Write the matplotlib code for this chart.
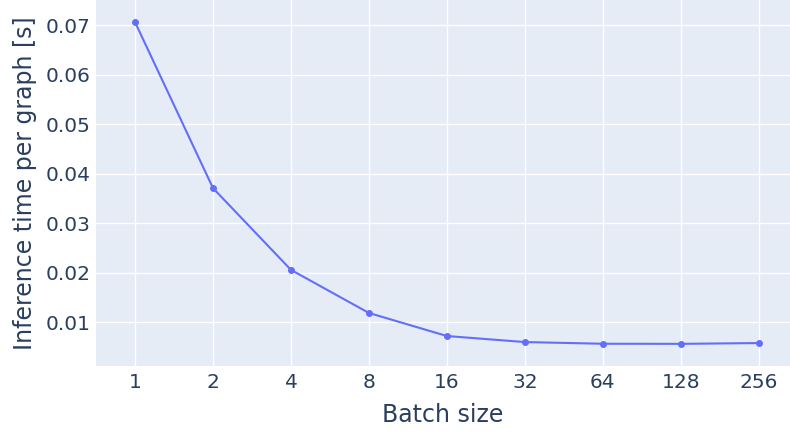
import matplotlib
matplotlib.use('Agg')
import matplotlib.pyplot as plt

# 数据
batch_sizes = ['1', '2', '4', '8', '16', '32', '64', '128', '256']
inference_time = [0.0706, 0.0371, 0.0206, 0.0119, 0.00725, 0.00603, 0.00569, 0.00567, 0.00583]

text_color = '#2a3f5f'
line_color = '#636efa'

plt.rcParams.update({
    "font.family": "DejaVu Sans",
    "xtick.labelsize": 14.5,
    "ytick.labelsize": 14.5,
})

fig = plt.figure(figsize=(7.9, 4.33), dpi=100)
ax = fig.add_axes([96 / 790, 67 / 433, 1 - 96 / 790, 1 - 67 / 433])
ax.set_facecolor('#e5ecf6')

x = list(range(len(batch_sizes)))
ax.plot(x, inference_time, color=line_color, linewidth=1.5, marker='o', markersize=4)

ax.set_xticks(x)
ax.set_xticklabels(batch_sizes)
ax.set_xlim(-0.5, 8.4)
ax.set_ylim(0.0012, 0.07505)
ax.set_yticks([0.01, 0.02, 0.03, 0.04, 0.05, 0.06, 0.07])
ax.set_yticklabels(['0.01', '0.02', '0.03', '0.04', '0.05', '0.06', '0.07'])

ax.grid(True, color='white', linewidth=1)
ax.set_axisbelow(True)
for s in ax.spines.values():
    s.set_visible(False)
ax.tick_params(length=0, colors=text_color)
ax.tick_params(axis='y', pad=4)
ax.tick_params(axis='x', pad=5)

ax.set_xlabel('Batch size', fontsize=17, color=text_color, labelpad=8)
ax.set_ylabel('Inference time per graph [s]', fontsize=17, color=text_color, labelpad=6)

fig.savefig('out.png', dpi=100)
